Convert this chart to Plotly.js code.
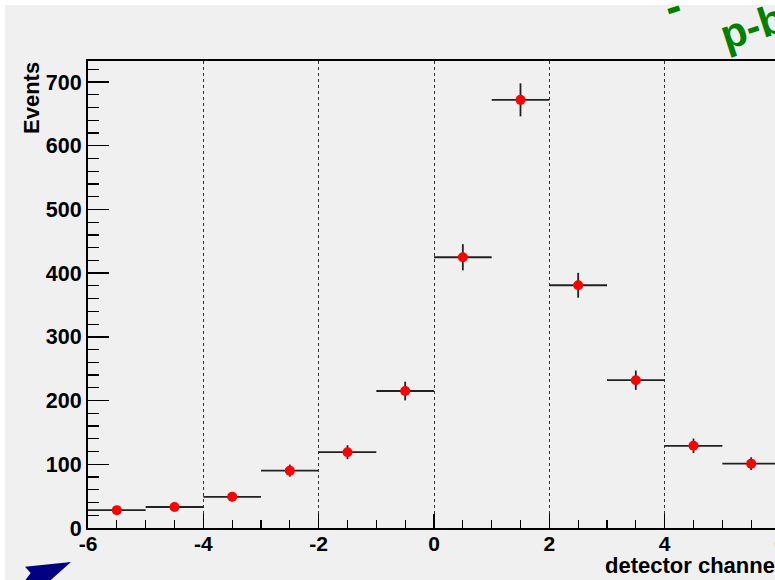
<!DOCTYPE html>
<html>
<head>
<meta charset="utf-8">
<script src="https://cdn.plot.ly/plotly-3.0.1.min.js"></script>
<style>
html,body{margin:0;padding:0;width:775px;height:580px;overflow:hidden;background:#ffffff;}
#chart{position:absolute;left:0;top:0;width:820px;height:580px;}
</style>
</head>
<body>
<div id="chart"></div>
<script>
// Data
const binCenters = [-5.5, -4.5, -3.5, -2.5, -1.5, -0.5, 0.5, 1.5, 2.5, 3.5, 4.5, 5.5];
const events     = [28, 33, 49, 90, 119, 215, 425, 672, 381, 232, 129, 101];
const eventErr   = [5.3, 5.7, 7.0, 9.5, 10.9, 14.7, 20.6, 25.9, 19.5, 15.2, 11.4, 10.0];
const binHalfWidth = [0.5, 0.5, 0.5, 0.5, 0.5, 0.5, 0.5, 0.5, 0.5, 0.5, 0.5, 0.5];
const xTickVals  = [-6, -4, -2, 0, 2, 4, 6];
const xTickText  = ["-6", "-4", "-2", "0", "2", "4", "6"];
const yTickVals  = [0, 100, 200, 300, 400, 500, 600, 700];
const yTickText  = ["0", "100", "200", "300", "400", "500", "600", "700"];
const xTitle = "detector channel";
const yTitle = "Events";

const W = 820, H = 580;
const L = 88, T = 61, PW = 692, PH = 467;
const px = v => (v - L) / PW;            // page x -> paper
const py = v => (T + PH - v) / PH;       // page y -> paper

const FONT = "Liberation Sans, Arial, Helvetica, sans-serif";

const trace = {
  type: "scatter",
  mode: "markers",
  x: binCenters,
  y: events,
  marker: {color: "#ff0000", size: 10},
  error_y: {type: "data", array: eventErr, visible: true, color: "#222222", thickness: 1.8, width: 0},
  error_x: {type: "data", array: binHalfWidth, visible: true, color: "#222222", thickness: 1.8, width: 0},
  hoverinfo: "x+y"
};

const arrowPath = "M " + px(25) + "," + py(566.7) +
  " L " + px(71) + "," + py(562) +
  " L " + px(44) + "," + py(586) +
  " L " + px(21) + "," + py(586) +
  " L " + px(30.7) + "," + py(573) + " Z";

const layout = {
  width: W, height: H,
  margin: {l: L, t: T, r: W - L - PW, b: H - T - PH, pad: 0},
  paper_bgcolor: "#f0f0f0",
  plot_bgcolor: "#f0f0f0",
  showlegend: false,
  font: {family: FONT, size: 21, color: "#000000", weight: "bold"},
  xaxis: {
    range: [-6, 6],
    tickmode: "array", tickvals: xTickVals, ticktext: xTickText,
    ticks: "inside", ticklen: 14, tickwidth: 1.5, tickcolor: "#000",
    minor: {dtick: 0.5, ticks: "inside", ticklen: 8, tickwidth: 1.2, tickcolor: "#000", showgrid: false},
    showline: true, linecolor: "#000", linewidth: 2, mirror: true,
    showgrid: true, gridcolor: "#333333", griddash: "dot", gridwidth: 1,
    zeroline: false,
    tickfont: {family: FONT, size: 21, color: "#000", weight: "bold"},
    ticklabelstandoff: -4
  },
  yaxis: {
    range: [0, 733],
    tickmode: "array", tickvals: yTickVals, ticktext: yTickText,
    ticks: "inside", ticklen: 21, tickwidth: 1.5, tickcolor: "#000",
    minor: {dtick: 20, ticks: "inside", ticklen: 11, tickwidth: 1.2, tickcolor: "#000", showgrid: false},
    showline: true, linecolor: "#000", linewidth: 2, mirror: true,
    showgrid: false, zeroline: false,
    tickfont: {family: FONT, size: 21.5, color: "#000", weight: "bold"},
    ticklabelstandoff: 0
  },
  shapes: [
    {type: "rect", xref: "paper", yref: "paper", x0: px(-20), x1: px(900), y0: py(5), y1: py(-20),
     fillcolor: "#ffffff", line: {width: 0}, layer: "below"},
    {type: "rect", xref: "paper", yref: "paper", x0: px(-20), x1: px(5), y0: py(600), y1: py(-20),
     fillcolor: "#ffffff", line: {width: 0}, layer: "below"},
    {type: "path", xref: "paper", yref: "paper", path: arrowPath,
     fillcolor: "#000080", line: {width: 0}, layer: "above"}
  ],
  annotations: [
    {text: xTitle, xref: "paper", yref: "paper", x: px(603), y: py(575), xanchor: "left", yanchor: "bottom",
     showarrow: false, font: {family: FONT, size: 22, color: "#000", weight: "bold"}, yshift: -5},
    {text: yTitle, xref: "paper", yref: "paper", x: px(31), y: py(60), xanchor: "center", yanchor: "top",
     textangle: -90, showarrow: false, font: {family: FONT, size: 22, color: "#000", weight: "bold"}},
    {text: "p-b", xref: "paper", yref: "paper", x: px(752), y: py(27), xanchor: "center", yanchor: "middle",
     textangle: -18, showarrow: false, font: {family: FONT, size: 42, color: "#008000", weight: "bold"}},
    {text: "-", xref: "paper", yref: "paper", x: px(672), y: py(6), xanchor: "center", yanchor: "middle",
     textangle: -18, showarrow: false, font: {family: FONT, size: 46, color: "#008000", weight: "bold"}}
  ]
};

Plotly.newPlot("chart", [trace], layout, {displayModeBar: false, staticPlot: true});
</script>
</body>
</html>
